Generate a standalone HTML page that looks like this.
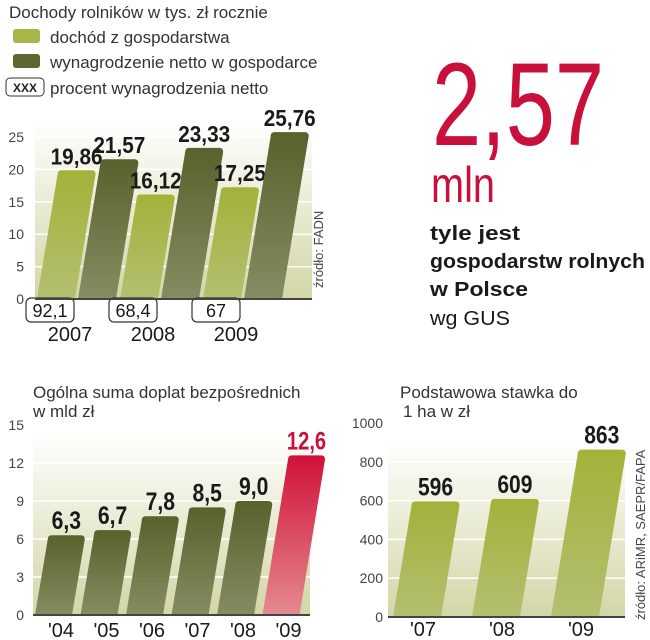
<!DOCTYPE html>
<html><head><meta charset="utf-8"><style>
body{margin:0;background:#fff}
svg{display:block;font-family:"Liberation Sans",sans-serif}
.t{fill:#333;font-size:17px}
.tick{fill:#444;font-size:14px}
.val{font-weight:bold;font-size:22px;fill:#1a1a1a;text-anchor:middle}
.yr{font-size:20px;fill:#1a1a1a;text-anchor:middle}
</style></head><body>
<svg id="s" width="650" height="640" viewBox="0 0 650 640">
<defs>
<linearGradient id="bg" x1="0" y1="0" x2="0" y2="1"><stop offset="0" stop-color="#fff"/><stop offset="1" stop-color="#d3d6a6"/></linearGradient>
<linearGradient id="lg" x1="0" y1="0" x2="0" y2="1"><stop offset="0" stop-color="#a3b23a"/><stop offset="1" stop-color="#b4bf70"/></linearGradient>
<linearGradient id="dg" x1="0" y1="0" x2="0" y2="1"><stop offset="0" stop-color="#58622c"/><stop offset="1" stop-color="#868c62"/></linearGradient>
<linearGradient id="rg" x1="0" y1="0" x2="0" y2="1"><stop offset="0" stop-color="#d0103a"/><stop offset="1" stop-color="#e58a90"/></linearGradient>
</defs>
<text class="t" x="9" y="18">Dochody rolników w tys. zł rocznie</text>
<rect x="13" y="29" width="27" height="14" rx="3" fill="#a8b548"/>
<text class="t" x="50" y="43">dochód z gospodarstwa</text>
<rect x="13" y="54" width="27" height="14" rx="3" fill="#5e6632"/>
<text class="t" x="50" y="68">wynagrodzenie netto w gospodarce</text>
<rect x="6" y="78" width="38" height="18" rx="4" fill="#fff" stroke="#333"/>
<text x="25" y="92" font-size="12" font-weight="bold" text-anchor="middle" fill="#222">XXX</text>
<text class="t" x="50" y="94">procent wynagrodzenia netto</text>

<text x="432" y="145" font-size="118" fill="#c8103a" textLength="172" lengthAdjust="spacingAndGlyphs">2,57</text>
<text x="431" y="202" font-size="50" fill="#c8103a" textLength="64" lengthAdjust="spacingAndGlyphs">mln</text>
<g font-weight="bold" font-size="20" fill="#1a1a1a">
<text x="430" y="240" textLength="90" lengthAdjust="spacingAndGlyphs">tyle jest</text>
<text x="430" y="268" textLength="215" lengthAdjust="spacingAndGlyphs">gospodarstw rolnych</text>
<text x="430" y="296" textLength="98" lengthAdjust="spacingAndGlyphs">w Polsce</text>
</g>
<text x="430" y="325" font-size="20" fill="#1a1a1a" textLength="80" lengthAdjust="spacingAndGlyphs">wg GUS</text>

<text class="t" x="33" y="398" font-size="18">Ogólna suma doplat bezpośrednich</text>
<text class="t" x="33" y="417" font-size="18">w mld zł</text>
<text class="t" x="400" y="398" font-size="18">Podstawowa stawka do</text>
<text class="t" x="403" y="417" font-size="18">1 ha w zł</text>

<text transform="translate(323,288) rotate(-90)" font-size="13" fill="#444">źródło: FADN</text>
<text transform="translate(645,620) rotate(-90)" font-size="13" fill="#444">źródło: ARiMR, SAEPR/FAPA</text>
<g id="g"></g>
</svg>
<script>
const c1Years=['2007','2008','2009'];
const c1Farm=[19.86,16.12,17.25];
const c1Wage=[21.57,23.33,25.76];
const c1FarmLbl=['19,86','16,12','17,25'];
const c1WageLbl=['21,57','23,33','25,76'];
const c1Pct=['92,1','68,4','67'];
const c1Ticks=[0,5,10,15,20,25];
const c2Years=["'04","'05","'06","'07","'08","'09"];
const c2Vals=[6.3,6.7,7.8,8.5,9.0,12.6];
const c2Lbl=['6,3','6,7','7,8','8,5','9,0','12,6'];
const c2Ticks=[0,3,6,9,12,15];
const c3Years=["'07","'08","'09"];
const c3Vals=[596,609,863];
const c3Ticks=[0,200,400,600,800,1000];

const NS='http://www.w3.org/2000/svg',G=document.getElementById('g');
function mk(t,a,txt){const e=document.createElementNS(NS,t);for(const k in a)e.setAttribute(k,a[k]);if(txt!=null)e.textContent=txt;G.appendChild(e);return e;}
const K=0.16;
function panel(x0,x1,yTop,y0,scale,ticks,tx,name){
  const p=mk('rect',{x:x0,y:yTop,width:x1-x0,height:y0-yTop,fill:'url(#bg)'});
  
  
  ticks.forEach(t=>{const y=y0-t*scale;
    if(t>0){const l=mk('line',{x1:x0,x2:x1,y1:y,y2:y,stroke:'#fff','stroke-width':1.5});
      
      }
    const e=mk('text',{x:tx,y:y+5,class:'tick','text-anchor':'end'},String(t));
    
    });
}
function axis(x0,x1,y0,name){const l=mk('line',{x1:x0,x2:x1,y1:y0,y2:y0,stroke:'#444','stroke-width':2});
  
  }
function bar(bx,w,y0,h,fill,lbl,lfill,name,fs,pc){
  const s=K*h;
  const d=`M${bx},${y0}L${bx+s},${y0-h+4}Q${bx+s},${y0-h} ${bx+s+4},${y0-h}L${bx+s+w-4},${y0-h}Q${bx+s+w},${y0-h} ${bx+s+w},${y0-h+4}L${bx+w},${y0}Z`;
  const p=mk('path',{d:d,fill:fill});
  
  
  const t=mk('text',{x:bx+s+w/2,y:y0-h-6,class:'val','font-size':fs,textLength:lbl.length*pc,lengthAdjust:'spacingAndGlyphs'},lbl);
  t.style.fontSize=fs+'px';
  if(lfill)t.style.fill=lfill;
  
  
}
// chart 1
{const y0=299,sc=32.4/5,yT=118;
 panel(35,312,yT,y0,sc,c1Ticks,24,'chart1');
 c1Years.forEach((yr,i)=>{const gx=37+83*i;
  bar(gx,38,y0,c1Farm[i]*sc,'url(#lg)',c1FarmLbl[i],null,'bar-farm-'+yr,23,10.4);
  bar(gx+41,38,y0,c1Wage[i]*sc,'url(#dg)',c1WageLbl[i],null,'bar-wage-'+yr,23,10.4);
  const r=mk('rect',{x:gx-11,y:298,width:48,height:24,rx:5,fill:'#fff',stroke:'#333','stroke-width':1.2});
  
  
  const t=mk('text',{x:gx+13,y:317,'font-size':18,'text-anchor':'middle',fill:'#1a1a1a'},c1Pct[i]);
  
  
  const y=mk('text',{x:gx+33,y:341,class:'yr'},yr);
  
  });
 axis(35,312,y0,'chart1');}
// chart 2
{const y0=615,sc=190/15;
 panel(33,310,432,y0,sc,c2Ticks,24,'chart2');
 c2Years.forEach((yr,i)=>{const gx=35+45.5*i,last=i===c2Years.length-1;
  bar(gx,37,y0,c2Vals[i]*sc,last?'url(#rg)':'url(#dg)',c2Lbl[i],last?'#c8103a':null,'bar-subsidy-'+yr,25,9.8);
  const y=mk('text',{x:gx+26,y:637,class:'yr'},yr);
  
  });
 axis(33,310,y0,'chart2');}
// chart 3
{const y0=617,sc=194/1000;
 panel(388,625,440,y0,sc,c3Ticks,383,'chart3');
 c3Years.forEach((yr,i)=>{const gx=393+79*i;
  bar(gx,48,y0,c3Vals[i]*sc,'url(#lg)',String(c3Vals[i]),null,'bar-rate-'+yr,25,11.7);
  const y=mk('text',{x:gx+30,y:636,class:'yr'},yr);
  
  });
 axis(388,625,y0,'chart3');}
</script>
</body></html>
